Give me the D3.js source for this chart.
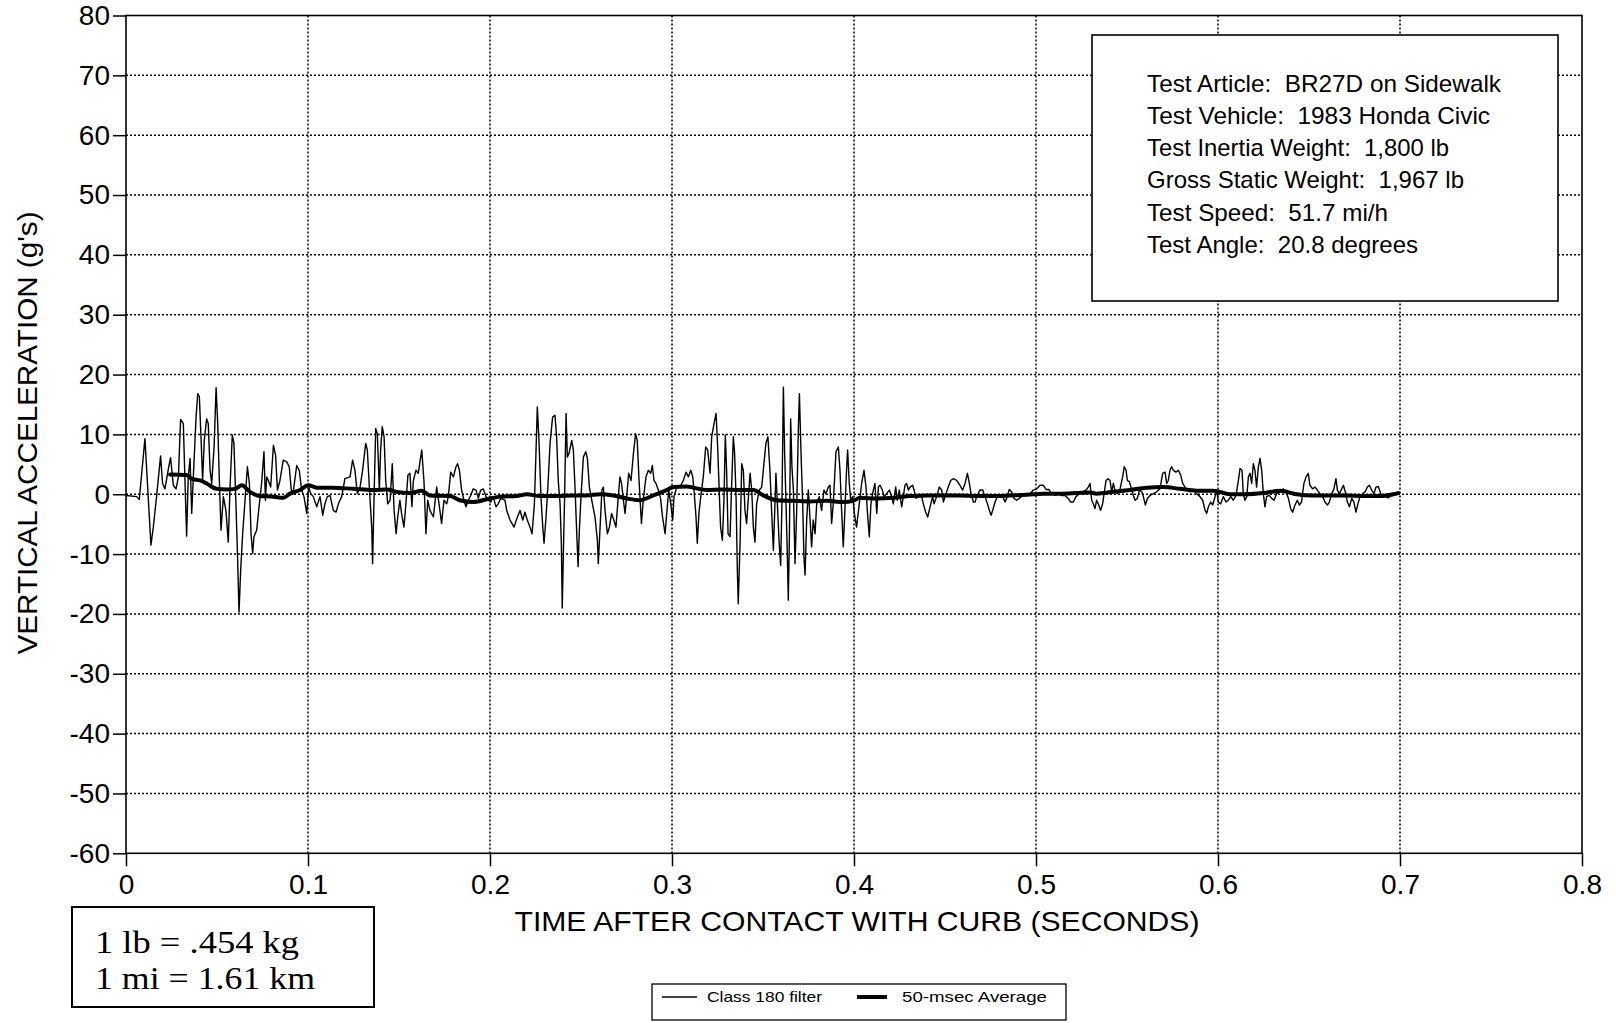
<!DOCTYPE html>
<html><head><meta charset="utf-8">
<script src="https://cdn.jsdelivr.net/npm/d3@7"></script>
<style>
body{margin:0;background:#fff;}
svg{display:block;background:#fff;}
text{font-family:"Liberation Sans",Arial,Helvetica,sans-serif;fill:#000;white-space:pre;}
</style>
</head><body>
<svg id="chart" width="1616" height="1023"></svg>
<script>
// ---- data ----
const yTicks = [80,70,60,50,40,30,20,10,0,-10,-20,-30,-40,-50,-60];
const xTicks = [0,0.1,0.2,0.3,0.4,0.5,0.6,0.7,0.8];
const xTitle = "TIME AFTER CONTACT WITH CURB (SECONDS)";
const yTitle = "VERTICAL ACCELERATION (g's)";
const infoLines = ["Test Article:  BR27D on Sidewalk","Test Vehicle:  1983 Honda Civic","Test Inertia Weight:  1,800 lb","Gross Static Weight:  1,967 lb","Test Speed:  51.7 mi/h","Test Angle:  20.8 degrees"];
const convLines = ["1 lb = .454 kg","1 mi = 1.61 km"];
const legendLabels = ["Class 180 filter","50-msec Average"];

// Class 180 filter trace: time (ms) and acceleration (g)
const filtT = [0.0,5.9,7.3,10.4,13.7,15.0,16.8,19.0,20.1,21.4,
23.3,24.5,26.0,27.5,28.8,30.0,31.5,32.4,33.3,34.2,
35.2,36.1,37.0,38.5,39.4,40.3,41.2,42.1,43.0,44.3,
45.2,46.2,47.1,48.4,49.5,50.4,51.3,52.2,53.5,54.9,
56.2,57.1,58.4,59.3,60.4,61.2,62.1,63.0,64.1,65.4,
66.7,67.8,68.7,69.6,70.3,71.8,72.9,74.5,75.8,76.6,
77.3,78.2,79.5,81.0,82.2,83.2,84.6,86.4,88.3,89.7,
90.8,91.9,93.8,95.2,96.5,97.8,99.3,100.4,101.5,102.9,
104.8,106.6,108.1,109.3,110.6,112.1,113.9,115.4,116.7,118.5,
120.3,123.1,124.5,125.8,127.1,128.6,130.0,131.7,132.6,133.7,
135.0,135.5,136.3,137.2,138.1,139.2,139.9,140.8,141.8,142.7,
143.8,145.1,146.3,147.3,148.4,149.3,150.5,151.4,152.7,153.8,
154.9,156.0,157.1,157.9,159.3,160.6,162.5,163.7,164.8,165.8,
167.0,168.9,170.7,172.0,173.4,174.7,176.2,
177.1,178.4,179.9,181.3,182.2,183.2,184.4,185.7,186.8,188.1,
189.4,190.8,192.3,193.6,194.9,196.3,197.8,199.1,200.4,201.8,
203.3,204.5,205.9,208.2,209.2,211.0,213.2,214.7,216.5,218.0,
219.2,220.5,222.0,223.1,224.4,225.3,226.0,226.9,228.0,229.0,
229.7,230.8,231.9,233.0,234.4,235.7,236.6,237.5,238.5,239.2,
239.7,240.3,241.0,241.8,242.5,243.4,244.9,245.8,246.7,247.6,
248.4,249.1,250.0,251.3,252.6,253.5,254.6,255.9,257.7,259.0,
259.5,260.4,261.5,262.3,263.2,264.5,265.6,266.8,267.8,269.2,
270.5,271.4,272.3,273.3,274.2,275.1,276.2,277.5,278.8,280.0,
280.9,281.9,282.4,283.2,284.2,285.7,287.0,288.3,289.2,290.1,
291.2,292.5,293.7,294.8,296.2,297.1,298.2,299.3,300.4,301.1,
302.6,304.4,306.2,307.7,309.0,310.3,311.4,312.1,313.2,313.9,
314.8,315.8,317.2,318.5,319.6,320.9,321.8,323.1,324.2,325.1,
326.0,326.7,327.7,328.6,329.3,330.0,330.8,331.9,332.8,333.7,
334.4,335.2,335.9,336.4,337.4,338.3,339.2,340.1,341.0,342.0,
342.9,343.8,344.7,345.6,346.5,348.0,349.3,350.5,
351.6,352.7,353.8,354.8,355.7,356.4,357.1,357.9,358.8,359.7,
360.4,361.2,361.9,362.6,363.4,363.9,364.5,365.2,365.9,366.7,
367.6,368.5,369.4,370.0,370.9,371.8,372.5,373.1,374.0,374.9,
375.8,376.7,377.6,378.6,379.5,380.9,382.2,383.5,384.6,385.9,
386.8,387.7,388.6,390.1,391.4,392.3,393.2,394.1,395.0,395.9,
396.5,397.4,398.2,399.3,400.2,401.4,402.9,404.2,405.5,406.6,
407.3,408.4,409.3,410.6,411.5,412.5,413.4,414.3,415.6,416.5,
417.9,419.4,420.7,421.6,422.9,423.8,424.9,426.2,427.1,428.0,
428.9,429.9,430.8,432.2,433.0,434.1,435.3,437.2,438.1,439.4,
440.5,441.8,443.2,444.0,445.4,446.9,448.2,449.1,450.0,451.8,
453.1,454.6,456.4,458.2,459.7,461.0,462.3,463.4,464.3,465.6,
466.5,467.4,469.2,470.7,472.0,473.3,474.4,475.3,476.2,477.5,
478.8,480.2,481.7,483.0,484.2,485.3,486.6,487.9,489.4,490.8,
492.7,494.9,496.7,498.5,500.4,502.2,504.0,505.5,507.0,508.6,
510.4,512.3,514.1,515.9,517.8,519.0,520.5,522.0,523.8,525.6,
527.5,
528.7,529.7,530.6,531.5,532.4,533.3,534.2,535.5,536.6,537.4,
538.5,539.6,540.7,541.6,542.5,543.4,544.7,546.2,547.6,548.5,
549.5,550.2,551.3,552.6,553.5,554.4,555.7,556.8,558.1,559.0,
560.1,561.2,562.6,564.5,566.3,568.1,569.6,570.9,571.8,572.7,
573.6,574.5,575.5,576.9,578.2,579.5,580.6,581.9,583.2,584.6,
586.4,588.3,590.1,591.6,592.9,593.8,594.7,596.0,597.1,598.4,
599.3,600.2,601.5,602.9,604.4,605.7,607.0,608.4,609.9,611.2,
612.1,613.2,613.9,614.8,615.8,616.7,617.6,618.5,619.4,620.3,
621.2,622.2,623.1,624.0,624.9,625.8,626.7,628.2,629.5,630.8,
632.2,634.1,635.9,637.4,638.7,639.9,641.0,642.3,643.6,644.7,
645.9,647.2,648.4,649.6,650.5,652.0,653.3,654.6,656.0,657.5,
658.8,660.1,661.2,662.5,663.7,664.8,665.6,666.7,668.0,668.9,
670.2,671.1,672.2,673.5,674.7,675.8,676.9,678.0,679.5,680.8,
682.1,683.2,684.4,685.7,686.8,688.1,689.4,690.8,692.3,693.6,
694.9,696.3,697.8,699.1];
const filtG = [-0.2,-0.4,-0.9,9.3,-8.5,-5.5,-0.4,6.4,1.8,0.9,
4.3,6.1,1.5,0.9,2.9,12.5,11.8,2.3,-7.0,2.9,
6.0,-3.2,2.9,12.9,16.8,16.3,9.6,2.3,9.0,12.6,
11.8,4.0,1.8,7.9,17.8,11.8,2.3,-6.0,-0.4,-2.7,
-8.0,0.7,9.9,8.5,-1.6,-9.4,-19.7,-12.7,-6.6,-1.0,
4.6,1.8,-6.6,-9.9,-7.1,-6.0,-2.7,1.8,7.1,-1.0,
2.9,2.3,1.2,8.2,6.5,0.7,2.3,5.7,5.4,4.6,
0.7,0.4,4.8,4.0,0.7,-0.4,-3.2,1.2,0.1,-0.4,
-2.1,-0.4,-3.5,-1.6,-0.4,-0.2,-2.7,-3.0,-1.6,-0.4,
2.6,2.9,5.7,4.0,0.1,1.2,4.0,8.5,7.4,1.2,
-5.5,-11.6,-0.4,11.0,10.1,0.7,7.4,11.3,9.6,2.3,
-1.6,-1.0,5.1,-2.7,-6.6,-3.8,-1.0,-3.2,-5.5,-1.6,
3.2,3.5,-2.1,2.3,4.0,3.5,7.4,2.3,-6.6,-1.0,
-2.7,-3.8,1.2,-1.6,-4.9,-1.0,-1.6,
-0.4,3.7,2.9,4.6,5.1,4.0,0.7,-1.0,-2.1,-1.0,
-0.2,0.9,0.7,-0.7,0.7,0.9,-0.4,-1.0,-1.3,-0.4,
-2.1,-1.6,-0.7,-1.0,-2.7,-4.3,-5.5,-4.1,-2.7,-4.3,
-3.0,-4.3,-5.5,-6.6,-1.6,7.4,14.6,9.0,-0.4,-5.5,
-8.2,-3.8,1.8,8.5,12.9,13.2,9.6,2.3,-1.6,-8.2,
-19.0,-9.9,-0.4,13.5,6.2,6.8,9.0,7.4,1.2,-6.0,
-12.1,-6.0,-0.4,6.2,7.1,6.0,1.2,-1.0,-3.8,-7.7,
-11.6,-6.0,0.7,1.2,-2.7,-6.6,-5.5,-3.2,-4.1,-5.5,
-0.4,2.9,1.8,-1.0,-3.2,-0.4,3.5,2.3,6.8,10.1,
9.0,2.3,-0.4,-4.9,-1.0,2.9,4.0,3.5,4.8,2.3,
1.8,0.7,-0.7,-3.8,-6.6,-3.2,0.7,-1.6,-4.3,-0.4,
1.2,1.2,2.3,3.7,2.9,4.0,2.9,0.7,-3.8,-8.2,
-3.2,-0.4,2.9,7.9,7.4,3.5,9.6,11.8,13.5,7.9,
0.1,-5.5,-7.7,-0.4,9.9,4.0,-6.6,-7.1,1.8,9.6,
6.8,-0.4,-12.7,-18.3,-8.2,5.1,4.0,-2.7,-4.9,-0.4,
3.5,0.7,-5.5,-8.0,-1.6,0.7,1.2,5.1,
8.5,9.6,4.0,-3.2,-9.4,-3.2,3.5,-1.6,-7.7,-11.9,
-1.6,17.9,6.8,-1.0,-10.5,-17.7,-7.1,12.6,4.6,0.7,
-11.6,-2.7,10.7,16.8,6.8,-1.6,-10.5,-13.5,-4.3,0.7,
-3.8,-8.8,-4.3,-6.6,-1.6,-0.4,-2.7,0.7,0.1,1.2,
1.5,-4.9,-1.6,7.1,7.9,4.0,-2.7,-8.8,-2.7,4.0,
7.4,1.8,-1.0,-0.4,-3.2,-5.5,-1.6,1.8,4.0,1.2,
-2.7,-7.1,-1.6,0.7,1.8,-3.2,1.2,1.5,0.7,-0.4,
0.1,0.7,-0.4,-1.6,1.2,-1.0,0.7,-2.1,-0.4,1.5,
1.8,0.7,1.2,1.5,0.7,-0.7,-0.4,-0.4,-1.6,-3.0,
-3.8,-2.1,-0.4,-1.6,-0.4,1.2,0.7,-1.3,-0.4,1.2,
2.3,2.6,2.3,1.5,0.7,1.8,3.5,1.8,0.1,-1.3,
-1.3,-0.4,0.7,0.7,-0.4,-1.6,-2.7,-3.5,-2.7,-1.3,
-0.4,-0.2,-0.4,-1.3,-0.4,0.8,0.4,-0.7,-1.0,-0.7,
-0.2,0.1,0.0,0.7,0.9,1.5,1.5,0.8,0.8,0.1,
-0.2,0.1,-0.2,-0.2,-0.7,-1.3,-1.3,-0.4,0.1,0.4,
0.7,
1.2,1.8,-1.0,-1.6,-2.4,-1.0,-1.6,-2.7,-1.6,0.1,
2.3,2.6,2.3,0.4,1.8,0.7,0.1,0.9,2.9,4.6,
4.0,2.3,2.1,0.7,-0.2,-1.0,-0.7,0.7,0.4,-0.4,
-1.8,-0.7,-0.2,0.1,0.4,0.9,3.5,3.7,1.8,2.3,
4.0,4.6,4.0,3.7,4.0,3.2,1.8,1.2,0.7,0.4,
0.7,0.1,-0.4,-1.0,-2.7,-3.2,-2.1,-1.3,-1.8,-0.4,
0.7,-1.3,-1.6,-0.4,-1.3,-1.0,-0.4,-1.0,-0.2,2.3,
4.3,4.0,0.1,-1.0,-0.4,2.9,3.5,1.8,5.1,4.0,
1.2,4.6,6.0,4.0,0.1,-2.1,-0.4,-0.2,-0.7,-1.0,
0.1,0.4,0.9,0.4,-0.7,-2.4,-3.0,-1.8,-1.0,-1.8,
-1.3,1.8,2.9,3.5,1.5,0.9,1.2,0.7,0.1,-0.4,
-1.3,-1.8,-1.3,0.1,0.9,2.6,0.7,0.1,0.9,1.5,
0.1,-1.3,-2.1,-0.7,-1.3,-3.0,-1.6,-0.4,0.1,0.4,
1.2,1.5,0.7,0.1,1.2,1.3,0.1,-0.3,-0.4,-0.6,
-0.3,-0.2,0.2,0.0];

// 50-msec average trace
const avgT = [24.2,33.3,36.1,40.7,44.3,49.8,55.3,59.9,63.6,68.1,
73.6,81.0,86.4,90.1,95.6,100.2,104.8,113.9,124.9,135.9,
143.2,148.7,156.0,162.5,167.0,178.0,
183.5,190.8,200.0,205.5,214.7,220.2,227.5,236.6,245.8,253.1,
260.4,267.8,275.1,282.4,289.7,297.1,300.7,308.1,311.7,319.0,
328.2,337.4,344.7,350.2,
357.5,366.7,375.8,385.0,394.1,399.6,403.3,412.5,421.6,430.8,
439.9,449.1,458.2,467.4,476.6,485.7,495.0,504.0,513.2,522.3,
529.7,
533.3,542.5,551.6,560.8,570.0,579.1,588.3,597.4,606.6,615.8,
624.9,634.1,643.2,652.4,661.5,670.7,679.9,689.0,696.3,699.1];
const avgG = [3.3,3.2,2.6,2.3,1.8,0.9,0.8,0.9,1.5,0.4,
-0.3,-0.4,-0.6,0.1,0.7,1.5,1.1,1.1,0.9,0.7,
0.8,0.4,0.2,0.6,-0.2,-0.3,
-1.0,-1.3,-0.7,-0.4,-0.3,0.0,-0.3,-0.3,-0.2,-0.2,
0.0,-0.2,-0.7,-1.0,-0.2,0.7,1.2,1.3,1.1,0.7,
0.8,0.7,0.7,-0.2,
-1.0,-1.1,-1.2,-1.1,-1.3,-1.1,-0.6,-0.7,-0.6,-0.3,
-0.2,-0.2,-0.2,-0.3,-0.3,-0.2,-0.1,0.1,0.1,0.2,
0.3,
0.1,0.4,0.7,1.1,1.2,0.9,0.6,0.6,0.0,0.0,
0.2,0.6,0.0,-0.2,-0.2,-0.2,-0.3,-0.3,0.0,0.2];

// ---- chart ----
const svg = d3.select("#chart");
const L = 126, R = 1582, T = 15.5, B = 853.3;
const x = d3.scaleLinear().domain([0, 0.8]).range([L, R]);
const y = d3.scaleLinear().domain([-60, 80]).range([B, T]);

if (filtT.length !== filtG.length) console.error("filter length mismatch", filtT.length, filtG.length);
if (avgT.length !== avgG.length) console.error("avg length mismatch", avgT.length, avgG.length);
const filt = filtT.map((t, i) => ({t: t / 1000, g: filtG[i]}));
const avg = avgT.map((t, i) => ({t: t / 1000, g: avgG[i]}));

// grid
const grid = svg.append("g").attr("stroke", "#000").attr("stroke-width", 1.5).attr("stroke-dasharray", "2,2");
grid.selectAll("line.h").data(yTicks.filter(v => v !== 80 && v !== -60)).join("line")
  .attr("x1", L).attr("x2", R).attr("y1", d => y(d)).attr("y2", d => y(d));
grid.selectAll("line.v").data(xTicks.filter(v => v !== 0 && v !== 0.8)).join("line")
  .attr("y1", T).attr("y2", B).attr("x1", d => x(d)).attr("x2", d => x(d));

// axes
const ya = svg.append("g").attr("transform", `translate(${L},0)`)
  .call(d3.axisLeft(y).tickValues(yTicks).tickSize(13).tickPadding(3).tickFormat(d => String(d)));
const xa = svg.append("g").attr("transform", `translate(0,${B})`)
  .call(d3.axisBottom(x).tickValues(xTicks).tickSize(13).tickPadding(8).tickFormat(d => d === 0 ? "0" : d3.format(".1f")(d)));
[ya, xa].forEach(a => {
  a.select(".domain").remove();
  a.selectAll(".tick line").attr("stroke", "#000").attr("stroke-width", 1.5);
  a.selectAll(".tick text").attr("font-size", 28).attr("font-family", "Liberation Sans, Arial, sans-serif").attr("fill", "#000");
});

// frame
svg.append("rect").attr("x", L).attr("y", T).attr("width", R - L).attr("height", B - T)
  .attr("fill", "none").attr("stroke", "#000").attr("stroke-width", 1.6);

// series
const line = d3.line().x(d => x(d.t)).y(d => y(d.g));
svg.append("path").datum(filt).attr("d", line).attr("fill", "none").attr("stroke", "#000")
  .attr("stroke-width", 1.4).attr("stroke-linejoin", "round");
svg.append("path").datum(avg).attr("d", line.curve(d3.curveMonotoneX)).attr("fill", "none").attr("stroke", "#000")
  .attr("stroke-width", 4).attr("stroke-linejoin", "round").attr("stroke-linecap", "round");

// axis titles
svg.append("text").attr("x", 857).attr("y", 931).attr("text-anchor", "middle")
  .attr("font-size", 28).attr("textLength", 685).attr("lengthAdjust", "spacingAndGlyphs").text(xTitle);
svg.append("text").attr("transform", "translate(37,433) rotate(-90)").attr("text-anchor", "middle")
  .attr("font-size", 27).attr("textLength", 443).attr("lengthAdjust", "spacingAndGlyphs").text(yTitle);

// info box
svg.append("rect").attr("x", 1092).attr("y", 35).attr("width", 466).attr("height", 266)
  .attr("fill", "#fff").attr("stroke", "#000").attr("stroke-width", 1.6);
const infoW = [354, 343, 302, 317, 241, 271];
svg.append("g").selectAll("text").data(infoLines).join("text")
  .attr("x", 1147).attr("y", (d, i) => 91.7 + i * 32.2)
  .attr("font-size", 24).attr("textLength", (d, i) => infoW[i]).attr("lengthAdjust", "spacingAndGlyphs")
  .text(d => d);

// conversion box
svg.append("rect").attr("x", 72).attr("y", 907).attr("width", 302).attr("height", 100)
  .attr("fill", "#fff").attr("stroke", "#000").attr("stroke-width", 2);
const convW = [204, 220];
svg.append("g").selectAll("text").data(convLines).join("text")
  .attr("x", 95).attr("y", (d, i) => 953 + i * 36)
  .style("font-family", "'Liberation Serif','Times New Roman',serif").attr("font-size", 32)
  .attr("textLength", (d, i) => convW[i]).attr("lengthAdjust", "spacingAndGlyphs")
  .text(d => d);

// legend
svg.append("rect").attr("x", 652).attr("y", 984).attr("width", 414).attr("height", 36)
  .attr("fill", "#fff").attr("stroke", "#000").attr("stroke-width", 1.3);
svg.append("line").attr("x1", 662).attr("x2", 697).attr("y1", 997).attr("y2", 997).attr("stroke", "#000").attr("stroke-width", 1.3);
svg.append("line").attr("x1", 857).attr("x2", 887).attr("y1", 997).attr("y2", 997).attr("stroke", "#000").attr("stroke-width", 4);
const legX = [707, 902], legW = [115, 145];
svg.append("g").selectAll("text").data(legendLabels).join("text")
  .attr("x", (d, i) => legX[i]).attr("y", 1002)
  .attr("font-size", 15).attr("textLength", (d, i) => legW[i]).attr("lengthAdjust", "spacingAndGlyphs")
  .text(d => d);
</script>
</body></html>
